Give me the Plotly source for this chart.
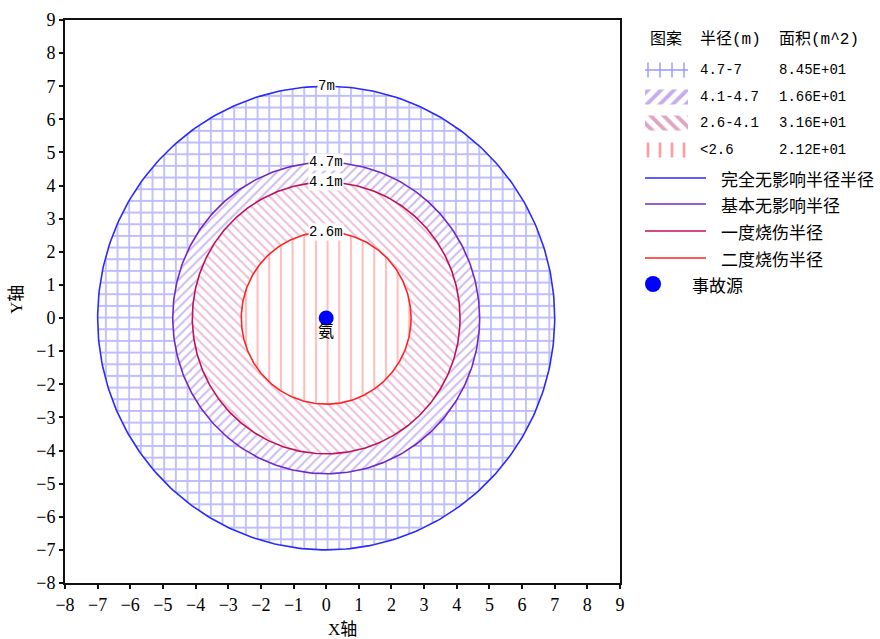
import numpy as np
import plotly.graph_objects as go

# ---- data -------------------------------------------------------------
radii = [7.0, 4.7, 4.1, 2.6]                      # zone radii (m)
radius_labels = ["7m", "4.7m", "4.1m", "2.6m"]
band_labels = ["4.7-7", "4.1-4.7", "2.6-4.1", "&lt;2.6"]
band_areas = [84.5, 16.6, 31.6, 21.2]             # m^2
line_names = ["完全无影响半径半径", "基本无影响半径", "一度烧伤半径", "二度烧伤半径"]
source_x = [0]
source_y = [0]
source_name = "氨"
source_legend = "事故源"
header = ["图案", "半径(m)", "面积(m^2)"]
axis_ticks = list(range(-8, 10))

# ---- styles -----------------------------------------------------------
line_colors = ["#2a2aff", "#7228c4", "#c0105a", "#ff2424"]
pat_shapes = ["+", "/", "\\", "|"]
pat_colors = ["#7c7cff", "#9c78dc", "#d880b0", "#ff7c7c"]
pat_sizes = [11.67, 6.6, 6.6, 11.67]
pat_solid = [0.29, 0.32, 0.32, 0.18]
leg_colors = ["#3030ff", "#9058dc", "#c04888", "#ff3c3c"]
leg_sizes = [12, 9.2, 9.2, 12]
leg_solid = [0.22, 0.42, 0.42, 0.22]

ASCII = "Liberation Serif, Noto Sans CJK SC"
MONO = "Liberation Mono, Noto Sans CJK SC"
W, H = 880, 639

fig = go.Figure()

theta = np.linspace(0, 2 * np.pi, 361)

# patterned zones, outermost first so inner zones paint over
for r, shp, col, sz, so in zip(radii, pat_shapes, pat_colors, pat_sizes, pat_solid):
    fig.add_trace(go.Scatter(
        x=r * np.cos(theta), y=r * np.sin(theta), mode="lines",
        fill="toself", fillcolor="white", line=dict(width=0),
        fillpattern=dict(shape=shp, fgcolor=col, bgcolor="white",
                         size=sz, solidity=so),
        hoverinfo="skip", showlegend=False, xaxis="x", yaxis="y"))

# radius outlines
for r, col in zip(radii, line_colors):
    fig.add_trace(go.Scatter(
        x=r * np.cos(theta), y=r * np.sin(theta), mode="lines",
        line=dict(color=col, width=1.6), hoverinfo="skip",
        showlegend=False, xaxis="x", yaxis="y"))

# accident source
fig.add_trace(go.Scatter(
    x=source_x, y=source_y, mode="markers",
    marker=dict(size=15, color="#0000ff"), showlegend=False,
    xaxis="x", yaxis="y"))

annotations = []
for r, lab in zip(radii, radius_labels):
    annotations.append(dict(
        x=0, y=r, xref="x", yref="y", text=lab, showarrow=False,
        font=dict(family=MONO, size=14, color="black"),
        bgcolor="white", borderpad=0))
annotations.append(dict(
    x=source_x[0], y=source_y[0], xref="x", yref="y", text=source_name,
    showarrow=False, yshift=-12,
    font=dict(family="Noto Sans CJK SC", size=16, color="black")))

# axis titles
annotations.append(dict(x=342 / W, y=1 - 629 / H, xref="paper", yref="paper",
                        xanchor="center", yanchor="middle",
                        text="X轴", showarrow=False,
                        font=dict(family=ASCII, size=17, color="black")))
annotations.append(dict(x=16 / W, y=1 - 300 / H, xref="paper", yref="paper",
                        xanchor="center", yanchor="middle",
                        text="Y轴", showarrow=False, textangle=-90,
                        font=dict(family=ASCII, size=17, color="black")))

# ---- legend panel (x2/y2 measured in pixels) --------------------------
hx = [648, 698, 777]
for t, x0 in zip(header, hx):
    annotations.append(dict(x=x0, y=40, xref="x2", yref="y2", text=t,
                            showarrow=False, xanchor="left", yanchor="middle",
                            font=dict(family=MONO, size=16, color="black")))

row_y = [70, 97, 123, 150]
for i, yc in enumerate(row_y):
    fig.add_trace(go.Scatter(
        x=[645, 688, 688, 645, 645],
        y=[yc - 7.5, yc - 7.5, yc + 7.5, yc + 7.5, yc - 7.5],
        mode="lines", fill="toself", fillcolor="white", line=dict(width=0),
        fillpattern=dict(shape=pat_shapes[i], fgcolor=leg_colors[i],
                         bgcolor="white", size=leg_sizes[i],
                         solidity=leg_solid[i]),
        hoverinfo="skip", showlegend=False, xaxis="x2", yaxis="y2"))
    annotations.append(dict(x=698, y=yc, xref="x2", yref="y2",
                            text=band_labels[i], showarrow=False,
                            xanchor="left", yanchor="middle",
                            font=dict(family=MONO, size=14, color="black")))
    annotations.append(dict(x=777, y=yc, xref="x2", yref="y2",
                            text=f"{band_areas[i]:.2E}", showarrow=False,
                            xanchor="left", yanchor="middle",
                            font=dict(family=MONO, size=14, color="black")))

line_y = [178, 204, 231, 258]
for name, col, yc in zip(line_names, line_colors, line_y):
    fig.add_trace(go.Scatter(
        x=[645, 706], y=[yc, yc], mode="lines",
        line=dict(color=col, width=1.5), hoverinfo="skip",
        showlegend=False, xaxis="x2", yaxis="y2"))
    annotations.append(dict(x=719, y=yc, xref="x2", yref="y2", text=name,
                            showarrow=False, xanchor="left", yanchor="middle",
                            font=dict(family="Noto Sans CJK SC", size=17,
                                      color="black")))

fig.add_trace(go.Scatter(
    x=[653], y=[284], mode="markers",
    marker=dict(size=16, color="#0000ff"), hoverinfo="skip",
    showlegend=False, xaxis="x2", yaxis="y2"))
annotations.append(dict(x=690, y=284, xref="x2", yref="y2", text=source_legend,
                        showarrow=False, xanchor="left", yanchor="middle",
                        font=dict(family="Noto Sans CJK SC", size=17,
                                  color="black")))

axis_common = dict(
    tickmode="array", tickvals=axis_ticks,
    range=[-8, 9], showgrid=False, zeroline=False,
    showline=True, linecolor="#111111", linewidth=2, mirror=True,
    ticks="outside", ticklen=4, tickwidth=1.5, tickcolor="#111111",
    tickfont=dict(family=ASCII, size=18, color="black"),
    fixedrange=True, automargin=False,
)

fig.update_layout(
    width=W, height=H,
    margin=dict(l=0, r=0, t=0, b=0, pad=0, autoexpand=False),
    paper_bgcolor="white", plot_bgcolor="white",
    xaxis=dict(domain=[65 / W, 620 / W], anchor="y", **axis_common),
    yaxis=dict(domain=[1 - 583 / H, 1 - 20 / H], anchor="x", **axis_common),
    xaxis2=dict(domain=[630 / W, 1], range=[630, 880], visible=False,
                anchor="y2", fixedrange=True),
    yaxis2=dict(domain=[0, 1 - 4 / H], range=[639, 4], visible=False,
                anchor="x2", fixedrange=True),
    annotations=annotations,
    showlegend=False,
)

fig.write_html("out.html")
